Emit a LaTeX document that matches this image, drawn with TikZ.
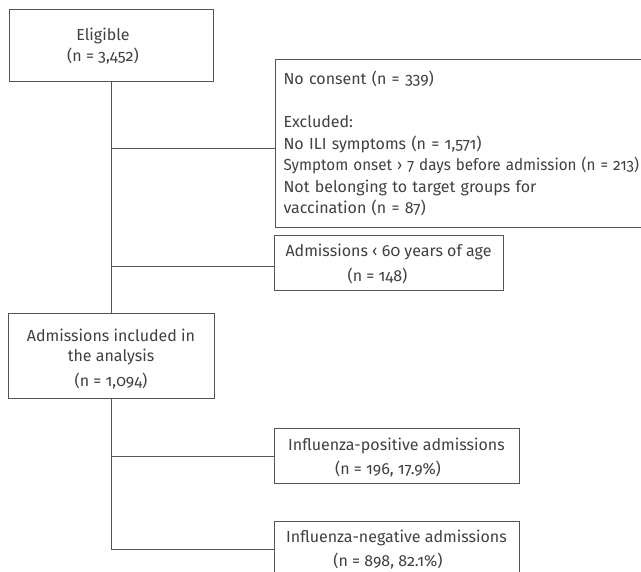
\documentclass[tikz,border=0pt]{standalone}
\usepackage{graphicx}
\usepackage{fontspec}
\setmainfont{Fira Sans}[Numbers=OldStyle]
\definecolor{ln}{HTML}{555555}
\definecolor{tx}{HTML}{404040}
\tikzset{
  box/.style={draw=ln, line width=1pt, rectangle, inner sep=0pt, text=tx,
    font=\fontsize{16}{21.5}\selectfont, align=center},
  conn/.style={draw=ln, line width=1pt}
}
\begin{document}
\begin{tikzpicture}[x=1pt, y=-1pt]
\useasboundingbox (0,0) rectangle (641,572);
\node[box, minimum width=204pt, minimum height=72pt] (elig) at (111,46)
  {Eligible\hspace*{16pt}\\(n = 3,452)\hspace*{16pt}};
\node[box, anchor=north west, minimum width=385pt, minimum height=167.5pt,
  text width=369pt, align=left] (excl) at (275,59.5)
  {No consent (n = 339)\\[21.5pt]Excluded:\\No ILI symptoms (n = 1,571)\\\scalebox{0.95}[1]{Symptom onset › 7 days before admission (n = 213)}\\Not belonging to target groups for\\vaccination (n = 87)};
\node[box, minimum width=229pt, minimum height=55pt] (young) at (388.5,263.5)
  {\rule{0pt}{14pt}Admissions ‹ 60 years of age\\[3.5pt](n = 148)\hspace*{22pt}};
\node[box, minimum width=206pt, minimum height=85pt, font=\fontsize{16}{20}\selectfont] (anal) at (111,356.5)
  {\rule{0pt}{18pt}Admissions included in\\the analysis\\[5pt](n = 1,094)};
\node[box, minimum width=245pt, minimum height=55pt] (pos) at (396.5,456.5)
  {\rule{0pt}{14pt}Influenza-positive admissions\\[2.5pt](n = 196, 17.9\%)\hspace*{17pt}};
\node[box, minimum width=245pt, minimum height=55pt] (neg) at (396.5,549.5)
  {Influenza-negative admissions\\[2pt](n = 898, 82.1\%)\hspace*{17pt}};
\coordinate (j1) at (elig.south |- 0,149);
\coordinate (j2) at (elig.south |- 0,267);
\draw[conn] (elig.south) -- (elig.south |- anal.north);
\draw[conn] (j1) -- (j1 -| excl.west);
\draw[conn] (j2) -- (j2 -| young.west);
\coordinate (j3) at (anal.south |- pos.west);
\coordinate (j4) at (anal.south |- neg.west);
\draw[conn] (anal.south) -- (j4) -- (neg.west);
\draw[conn] (j3) -- (pos.west);
\end{tikzpicture}
\end{document}
